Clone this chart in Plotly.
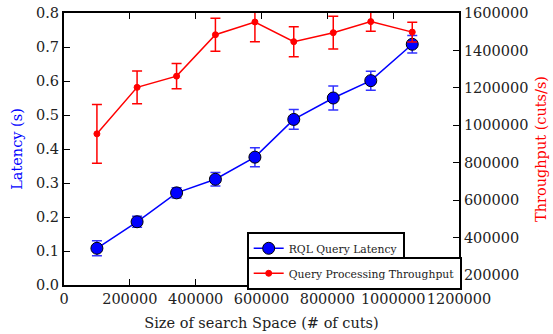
import plotly.graph_objects as go

search_space = [100000, 222000, 342000, 460000, 580000, 698000, 818000, 932000, 1058000]
latency = [0.108, 0.186, 0.271, 0.311, 0.376, 0.487, 0.550, 0.601, 0.708]
latency_err = [0.022, 0.016, 0.015, 0.020, 0.028, 0.029, 0.035, 0.028, 0.026]
throughput = [955000, 1203000, 1263000, 1484000, 1552000, 1447000, 1495000, 1554000, 1498000]
throughput_err = [157000, 87000, 67000, 88000, 105000, 80000, 87000, 52000, 53000]

FONT = "DejaVu Serif"
FS = 14.5

fig = go.Figure()
fig.add_trace(go.Scatter(
    x=search_space, y=latency, name="RQL Query Latency",
    mode="lines+markers",
    line=dict(color="#0000ff", width=1.5),
    marker=dict(color="#0000ff", size=12, line=dict(color="black", width=1)),
    error_y=dict(type="data", array=latency_err, color="#3333ff", thickness=1.5, width=5),
    legend="legend", yaxis="y",
))
fig.add_trace(go.Scatter(
    x=search_space, y=throughput, name="Query Processing Throughput",
    mode="lines+markers",
    line=dict(color="#ff0000", width=1.5),
    marker=dict(color="#ff0000", size=6, line=dict(color="#ff0000", width=1)),
    error_y=dict(type="data", array=throughput_err, color="#ff0000", thickness=1.5, width=5),
    legend="legend2", yaxis="y2",
))

axis_common = dict(
    showgrid=False, zeroline=False, showline=True, linecolor="black", linewidth=2,
    ticks="inside", ticklen=6, tickcolor="black", tickwidth=1, automargin=False,
    tickfont=dict(family=FONT, size=FS, color="#222222"),
)

legend_common = dict(
    xanchor="left", yanchor="top",
    bgcolor="white", bordercolor="black", borderwidth=2,
    font=dict(family=FONT, size=10.8, color="#222222"),
    tracegroupgap=0, itemsizing="trace", itemwidth=30,
)

fig.update_layout(
    width=553, height=334,
    margin=dict(l=64, r=94, t=13, b=49),
    paper_bgcolor="white", plot_bgcolor="white",
    font=dict(family=FONT, size=FS, color="#222222"),
    showlegend=True,
    xaxis=dict(
        **axis_common, range=[0, 1200000], dtick=200000, tick0=0, mirror="ticks",
        tickformat="d", tickangle=0,
        title=dict(text="Size of search Space (# of cuts)", font=dict(family=FONT, size=FS, color="#222222"), standoff=11),
    ),
    yaxis=dict(
        **axis_common, range=[0, 0.8], dtick=0.1, tickformat=".1f",
        title=dict(text="Latency (s)", font=dict(family=FONT, size=FS, color="#0000ff"), standoff=10),
    ),
    yaxis2=dict(
        **axis_common, range=[148000, 1600000], dtick=200000, tick0=0, tickformat="d",
        overlaying="y", side="right",
        title=dict(text="Throughput (cuts/s)", font=dict(family=FONT, size=FS, color="#ff0000"), standoff=8),
    ),
    legend=dict(**legend_common, x=0.4625, y=0.1956),
    legend2=dict(**legend_common, x=0.4625, y=0.1037),
)

fig.write_html("out.html", config={"displayModeBar": False},
               post_script="document.body.style.margin='0';")
